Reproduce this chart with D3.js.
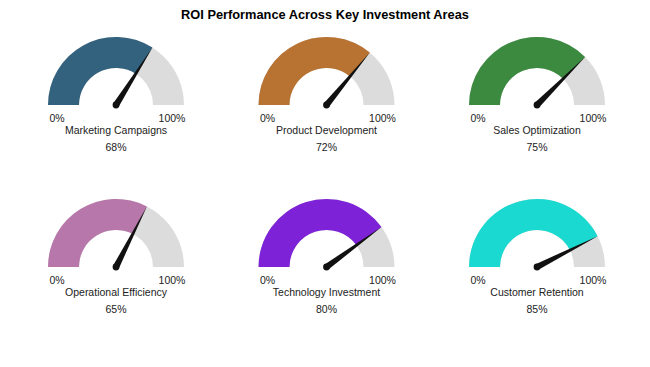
<!DOCTYPE html>
<html><head><meta charset="utf-8">
<script src="https://cdn.jsdelivr.net/npm/d3@7"></script>
<style>body{margin:0;background:#fff;}svg{display:block;font-family:"Liberation Sans",Arial,sans-serif;}</style>
</head><body>
<svg id="chart" width="650" height="367"></svg>
<script>
const title = "ROI Performance Across Key Investment Areas";
const categories = ["Marketing Campaigns","Product Development","Sales Optimization","Operational Efficiency","Technology Investment","Customer Retention"];
const values = [68,72,75,65,80,85];
const colors = ["#33627f","#b87333","#3b8a3f","#b877aa","#7d22d6","#1ad9d0"];
const tickLabels = ["0%","100%"];

const svg = d3.select("#chart");
svg.append("text").attr("x",325).attr("y",19).attr("text-anchor","middle")
  .attr("font-size",12.8).attr("font-weight","bold").attr("fill","#000").text(title);

const colX = d3.scalePoint().domain([0,1,2]).range([116,537]);
const rowY = d3.scalePoint().domain([0,1]).range([105,267]);
const angle = d3.scaleLinear().domain([0,100]).range([-Math.PI/2, Math.PI/2]);
const outerR = 68, innerR = 37;
const arc = d3.arc().innerRadius(innerR).outerRadius(outerR);

categories.forEach((cat,i)=>{
  const g = svg.append("g").attr("transform",`translate(${colX(i%3)},${rowY(Math.floor(i/3))})`);
  g.append("path").attr("d",arc({startAngle:angle(0),endAngle:angle(100)})).attr("fill","#dcdcdc");
  g.append("path").attr("d",arc({startAngle:angle(0),endAngle:angle(values[i])})).attr("fill",colors[i]);
  const a = angle(values[i]);
  const tip = [Math.sin(a)*outerR, -Math.cos(a)*outerR];
  const w = 3.2;
  const px = Math.cos(a)*w, py = Math.sin(a)*w;
  g.append("path").attr("d",`M${px},${py}L${tip[0]},${tip[1]}L${-px},${-py}Z`).attr("fill","#111");
  g.append("circle").attr("r",3.4).attr("fill","#111");
  g.append("text").attr("x",-outerR+9).attr("y",17).attr("text-anchor","middle").attr("font-size",10.5).attr("fill","#222").text(tickLabels[0]);
  g.append("text").attr("x",outerR-12).attr("y",17).attr("text-anchor","middle").attr("font-size",10.5).attr("fill","#222").text(tickLabels[1]);
  g.append("text").attr("x",0).attr("y",29).attr("text-anchor","middle").attr("font-size",10.5).attr("fill","#222").text(cat);
  g.append("text").attr("x",0).attr("y",46).attr("text-anchor","middle").attr("font-size",10.5).attr("fill","#222").text(values[i]+"%");
});
</script>
</body></html>
